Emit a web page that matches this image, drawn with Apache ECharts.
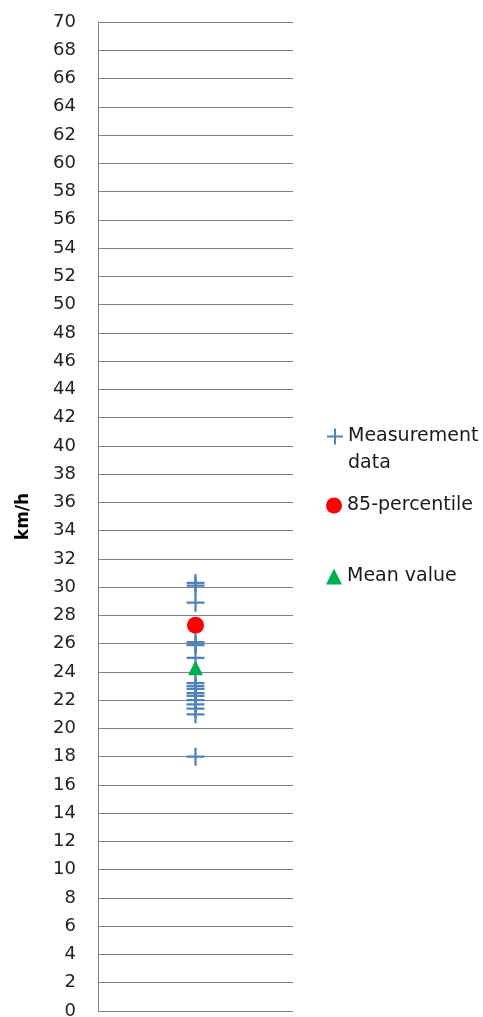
<!DOCTYPE html>
<html>
<head>
<meta charset="utf-8">
<script src="https://cdn.jsdelivr.net/npm/echarts@6/dist/echarts.min.js"></script>
<style>
html,body{margin:0;padding:0;background:#fff;overflow:hidden;}
#chart{width:483px;height:1017px;}
</style>
</head>
<body>
<div id="chart"></div>
<script>
var categories = [''];
var measurementData = [30.3, 30.1, 28.9, 26.1, 25.9, 25.0, 23.2, 23.0, 22.8, 22.5, 22.3, 22.0, 21.7, 21.4, 21.0, 18.0];
var percentile85 = [27.3];
var meanValue = [24.3];
var seriesNames = ['Measurement data', '85-percentile', 'Mean value'];
var yMin = 0, yMax = 70, yStep = 2;

var plusPath = 'path://M7,0h2v16h-2z M0,7h16v2h-16z';
function toPts(arr){ return arr.map(function(v){ return [0, v]; }); }

var chart = echarts.init(document.getElementById('chart'), null, {renderer:'canvas'});
var font = 'DejaVu Sans';
chart.setOption({
  animation: false,
  grid: {left: 98, right: 190, top: 22, bottom: 6, containLabel: false, outerBoundsMode: 'none'},
  legend: [
    {data: [seriesNames[0]], left: 322, top: 391, itemWidth: 16, itemHeight: 16,
     formatter: function(){ return ' \nMeasurement\ndata'; },
     textStyle: {fontFamily: font, fontSize: 19, color: '#1a1a1a', lineHeight: 27}},
    {data: [seriesNames[1]], left: 321, top: 491, itemWidth: 16, itemHeight: 16,
     textStyle: {fontFamily: font, fontSize: 19, color: '#1a1a1a'}},
    {data: [seriesNames[2]], left: 321, top: 562, itemWidth: 16, itemHeight: 16,
     textStyle: {fontFamily: font, fontSize: 19, color: '#1a1a1a'}}
  ],
  xAxis: {
    type: 'category', data: categories, boundaryGap: true,
    axisLine: {show: false}, axisTick: {show: false}, axisLabel: {show: false}, splitLine: {show: false}
  },
  yAxis: {
    type: 'value', min: yMin, max: yMax, interval: yStep,
    name: 'km/h', nameLocation: 'middle', nameRotate: 90, nameGap: 66,
    nameTextStyle: {fontFamily: font, fontSize: 17, fontWeight: 'bold', color: '#000'},
    axisLine: {show: true, lineStyle: {color: '#808080', width: 1}},
    axisTick: {show: false},
    axisLabel: {fontFamily: font, fontSize: 18, color: '#222', margin: 22},
    splitLine: {show: true, lineStyle: {color: '#808080', width: 1}}
  },
  series: [
    {name: seriesNames[0], type: 'scatter', symbol: plusPath, symbolSize: 18,
     itemStyle: {color: '#4F81BD', opacity: 1}, data: toPts(measurementData), z: 2},
    {name: seriesNames[1], type: 'scatter', symbol: 'circle', symbolSize: 17,
     itemStyle: {color: '#FF0000', opacity: 1}, data: toPts(percentile85), z: 3},
    {name: seriesNames[2], type: 'scatter', symbol: 'triangle', symbolSize: 15,
     itemStyle: {color: '#00B050', opacity: 1}, data: toPts(meanValue), z: 3}
  ]
});
</script>
</body>
</html>
